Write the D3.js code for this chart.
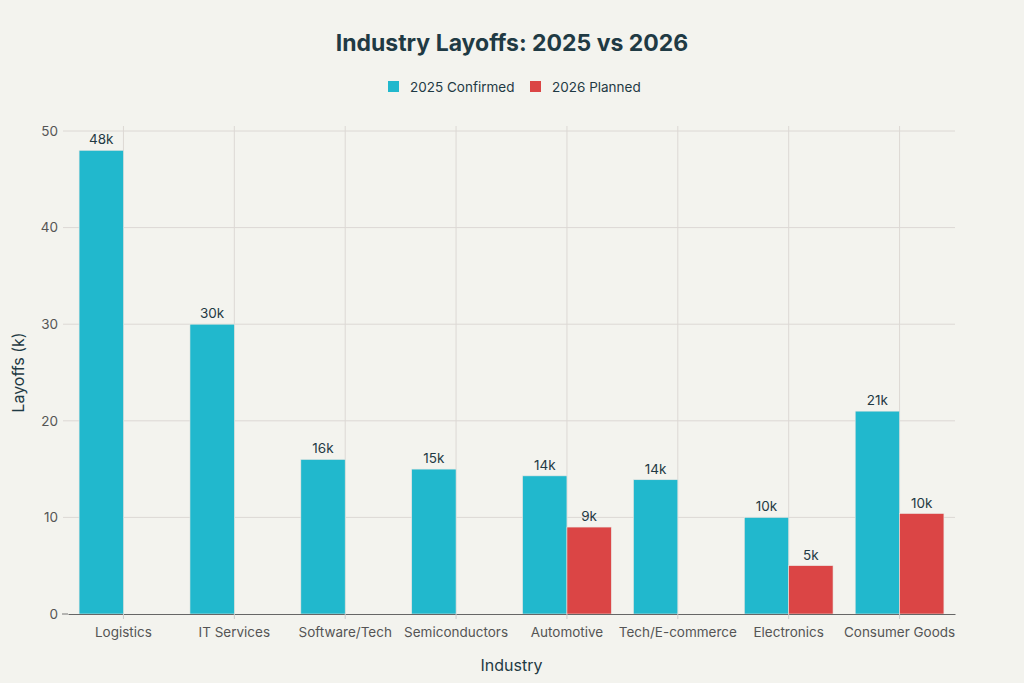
<!DOCTYPE html>
<html>
<head>
<meta charset="utf-8">
<script src="https://cdn.jsdelivr.net/npm/d3@7"></script>
<style>
  body { margin: 0; background: #f3f3ee; }
  svg { font-family: Inter, "Liberation Sans", sans-serif; }
</style>
</head>
<body>
<div id="chart"></div>
<script>
const industries = ["Logistics", "IT Services", "Software/Tech", "Semiconductors", "Automotive", "Tech/E-commerce", "Electronics", "Consumer Goods"];
const confirmed2025 = [48, 30, 16, 15, 14.3, 13.9, 10, 21];
const planned2026 = [null, null, null, null, 9, null, 5, 10.4];
const seriesNames = ["2025 Confirmed", "2026 Planned"];
const yTicks = [0, 10, 20, 30, 40, 50];

const colors = ["#21b8cd", "#db4545"];
const W = 1024, H = 683;
const margin = {top: 131, right: 69, bottom: 69, left: 68};
const width = W - margin.left - margin.right;
const height = H - margin.top - margin.bottom;

const svg = d3.select("#chart").append("svg")
    .attr("width", W).attr("height", H);

svg.append("rect").attr("width", W).attr("height", H).attr("fill", "#f3f3ee");

const g = svg.append("g").attr("transform", `translate(${margin.left},${margin.top})`);

const x0 = d3.scaleBand().domain(industries).range([0, width]).paddingInner(0.2).paddingOuter(0.1);
const x1 = d3.scaleBand().domain(seriesNames).range([0, x0.bandwidth()]);
const y = d3.scaleLinear().domain([0, 50]).range([height, 0]);

// grid
g.selectAll(".hgrid").data(yTicks.slice(1)).enter().append("line")
    .attr("x1", -5).attr("x2", width)
    .attr("y1", d => y(d)).attr("y2", d => y(d))
    .attr("stroke", "#dcd8d4").attr("stroke-width", 1);

g.selectAll(".vgrid").data(industries).enter().append("line")
    .attr("x1", d => x0(d) + x0.bandwidth() / 2).attr("x2", d => x0(d) + x0.bandwidth() / 2)
    .attr("y1", -5).attr("y2", height)
    .attr("stroke", "#dcd8d4").attr("stroke-width", 1);

// bars
const rows = industries.map((name, i) => ({name, values: [confirmed2025[i], planned2026[i]]}));

const groups = g.selectAll(".grp").data(rows).enter().append("g")
    .attr("transform", d => `translate(${x0(d.name)},0)`);

groups.selectAll("rect")
    .data(d => d.values.map((v, j) => ({v, j})).filter(e => e.v != null))
    .enter().append("rect")
    .attr("x", e => x1(seriesNames[e.j]))
    .attr("y", e => y(e.v))
    .attr("width", x1.bandwidth())
    .attr("height", e => height - y(e.v))
    .attr("fill", e => colors[e.j])
    .attr("stroke", "#e9e6e2").attr("stroke-width", 0.6);

groups.selectAll(".lbl")
    .data(d => d.values.map((v, j) => ({v, j})).filter(e => e.v != null))
    .enter().append("text")
    .attr("x", e => x1(seriesNames[e.j]) + x1.bandwidth() / 2)
    .attr("y", e => y(e.v) - 6)
    .attr("text-anchor", "middle")
    .attr("font-size", 13.5)
    .attr("fill", "#1f3a44")
    .text(e => Math.round(e.v) + "k");

// axes
const yAxis = g.append("g").call(d3.axisLeft(y).tickValues(yTicks).tickSize(0).tickPadding(10));
yAxis.select(".domain").remove();
yAxis.selectAll("text").attr("font-size", 13.5).attr("fill", "#555").style("font-family", "Inter, 'Liberation Sans', sans-serif");
g.append("line").attr("x1", -6).attr("x2", 0).attr("y1", height).attr("y2", height).attr("stroke", "#777");

const xAxis = g.append("g").attr("transform", `translate(0,${height})`)
    .call(d3.axisBottom(x0).tickSize(5).tickPadding(8).tickSizeOuter(0));
xAxis.select(".domain").attr("stroke", "#666").attr("stroke-width", 1.2);
xAxis.selectAll(".tick line").attr("stroke", "#ccc");
xAxis.selectAll("text").attr("font-size", 13.5).attr("fill", "#555").style("font-family", "Inter, 'Liberation Sans', sans-serif");

// titles
svg.append("text").attr("x", W / 2).attr("y", 51).attr("text-anchor", "middle")
    .attr("font-size", 23).attr("font-weight", "bold").attr("fill", "#1f3a44")
    .text("Industry Layoffs: 2025 vs 2026");

svg.append("text").attr("x", margin.left + width / 2).attr("y", 671).attr("text-anchor", "middle")
    .attr("font-size", 16).attr("fill", "#1f3a44").text("Industry");

svg.append("text").attr("transform", `translate(24,${margin.top + height / 2}) rotate(-90)`)
    .attr("text-anchor", "middle").attr("font-size", 16).attr("fill", "#1f3a44").text("Layoffs (k)");

// legend
const legendX = [388, 530];
const leg = svg.selectAll(".leg").data(seriesNames).enter().append("g")
    .attr("transform", (d, i) => `translate(${legendX[i]},81)`);
leg.append("rect").attr("width", 11).attr("height", 11).attr("fill", (d, i) => colors[i]);
leg.append("text").attr("x", 22).attr("y", 10.5).attr("font-size", 13.5).attr("fill", "#1f3a44").text(d => d);
</script>
</body>
</html>
